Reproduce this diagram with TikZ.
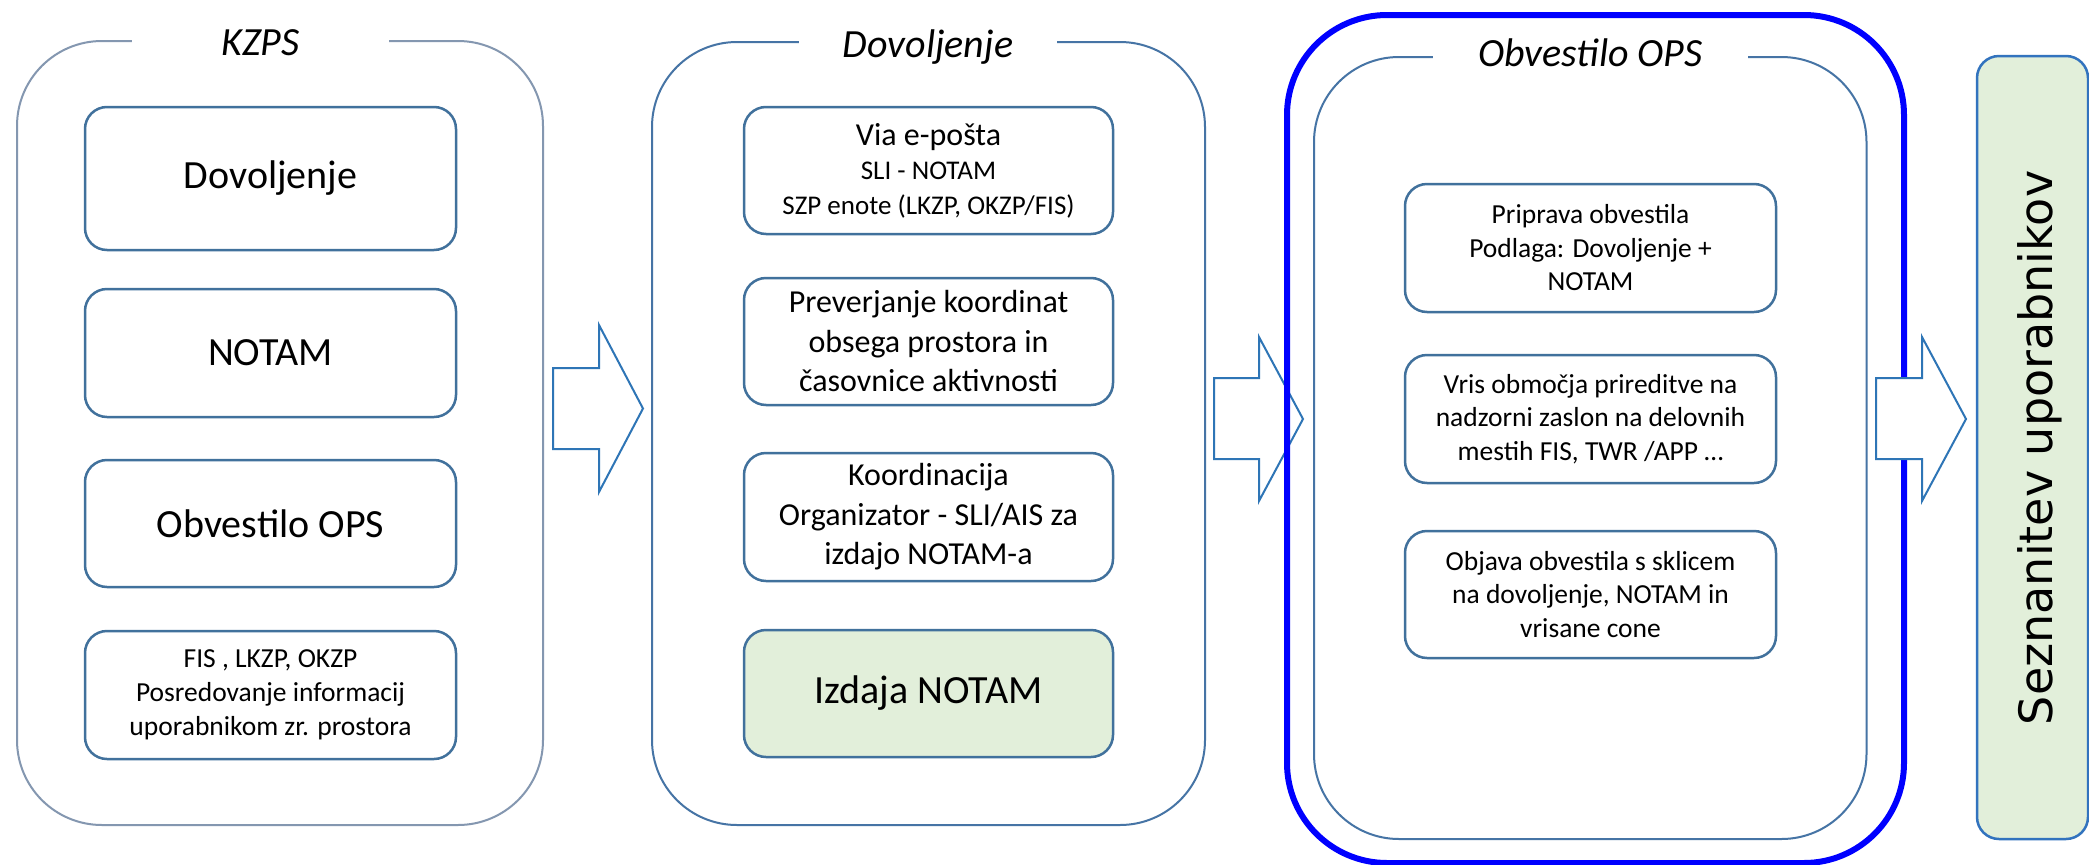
\documentclass[tikz,border=0pt]{standalone}
\usepackage{fontspec}
\setmainfont{Carlito}
\newfontfamily\vfont{DejaVu Sans}
\newcommand{\fsz}[2]{\fontsize{#1}{#2}\selectfont}
\definecolor{boxblue}{RGB}{65,113,156}
\definecolor{kzpsline}{RGB}{132,151,176}
\definecolor{outline}{RGB}{70,116,165}
\definecolor{arrowblue}{RGB}{46,117,182}
\definecolor{lgreen}{RGB}{226,239,218}
\definecolor{brightblue}{RGB}{0,0,255}
\definecolor{sgreenline}{RGB}{50,115,190}
\tikzset{
  outbox/.style={draw=outline, line width=2pt, rounded corners=85pt, inner sep=0pt, fill=white},
  ttl/.style={fill=white, inner sep=0pt, anchor=base, font=\itshape\fsz{40}{48}},
  inbox/.style={draw=boxblue, line width=2.5pt, rounded corners=22pt, fill=white, align=center, inner sep=0pt},
  blockarrow/.style={draw=arrowblue, line width=2pt, fill=white, line join=miter},
  smalltext/.style={font=\fsz{27.5}{34}},
  bigtext/.style={font=\fsz{40}{48}},
  midtext/.style={font=\fsz{32}{39.5}}
}
\begin{document}
\begin{tikzpicture}[x=1pt,y=-1pt]
\useasboundingbox (0,0) rectangle (2089,865);
\fill[white] (0,0) rectangle (2089,865);

% KZPS column
\node[outbox, draw=kzpsline, minimum width=526pt, minimum height=784pt] (kzps) at (280,433) {};
\node[ttl, minimum width=257pt] (kzpsT) at (260.5,55) {KZPS};
\node[inbox, bigtext, minimum width=371pt, minimum height=143pt] (k1) at (270.5,178.5) {Dovoljenje};
\node[inbox, bigtext, minimum width=371pt, minimum height=128pt] (k2) at (270.5,353) {NOTAM};
\node[inbox, bigtext, minimum width=371pt, minimum height=127pt] (k3) at (270.5,523.5) {Obvestilo OPS};
\node[inbox, smalltext, minimum width=371pt, minimum height=128pt] (k4) at (270.5,695) {FIS , LKZP, OKZP\\Posredovanje informacij\\uporabnikom zr. prostora};

% arrow 1
\draw[blockarrow] (553,368) -- (599,368) -- (599,325) -- (643,408.5) -- (599,492) -- (599,449) -- (553,449) -- cycle;

% Dovoljenje column
\node[outbox, minimum width=553pt, minimum height=783pt] (dov) at (928.5,433.5) {};
\node[ttl, minimum width=258pt] (dovT) at (928,57) {Dovoljenje};
\node[inbox, font=\fsz{27}{34.5}, minimum width=369pt, minimum height=127pt] (d1) at (928.5,170.5) {{\fsz{32}{36}Via e-pošta}\\SLI - NOTAM\\SZP enote (LKZP, OKZP/FIS)};
\node[inbox, midtext, minimum width=369pt, minimum height=127pt] (d2) at (928.5,341.5) {Preverjanje koordinat\\obsega prostora in\\časovnice aktivnosti};
\node[inbox, midtext, minimum width=369pt, minimum height=128pt] (d3) at (928.5,517) {Koordinacija\\Organizator - SLI/AIS za\\izdajo NOTAM-a};
\node[inbox, bigtext, fill=lgreen, minimum width=369pt, minimum height=127pt] (d4) at (928.5,693.5) {Izdaja NOTAM};

% arrow 2 (under the blue frame)
\draw[blockarrow] (1214,378) -- (1259,378) -- (1259,337) -- (1303,419) -- (1259,501) -- (1259,459) -- (1214,459) -- cycle;

% Obvestilo OPS column
\node[draw=brightblue, line width=6pt, rounded corners=100pt, inner sep=0pt, minimum width=617pt, minimum height=848pt] (frame) at (1595.5,439) {};
\node[outbox, minimum width=552.5pt, minimum height=782pt] (obv) at (1590.25,448) {};
\node[ttl, minimum width=315pt] (obvT) at (1590.5,66) {Obvestilo OPS};
\node[inbox, font=\fsz{27.5}{33.5}, minimum width=371pt, minimum height=128pt] (o1) at (1590.5,248) {Priprava obvestila\\Podlaga: Dovoljenje +\\NOTAM};
\node[inbox, font=\fsz{27.5}{33.5}, minimum width=371pt, minimum height=128pt] (o2) at (1590.5,419) {Vris območja prireditve na\\nadzorni zaslon na delovnih\\mestih FIS, TWR /APP …};
\node[inbox, font=\fsz{27.5}{33.5}, minimum width=371pt, minimum height=127pt] (o3) at (1590.5,594.5) {Objava obvestila s sklicem\\na dovoljenje, NOTAM in\\vrisane cone};

% arrow 3 (over the blue frame)
\draw[blockarrow] (1876,378) -- (1922,378) -- (1922,337) -- (1966,419) -- (1922,501) -- (1922,459) -- (1876,459) -- cycle;

% Seznanitev uporabnikov
\node[draw=sgreenline, line width=2.5pt, fill=lgreen, rounded corners=22pt, inner sep=0pt, minimum width=111pt, minimum height=783pt] (sez) at (2032.5,447.5) {};
\node[rotate=90, inner sep=0pt, font=\vfont\fsz{46}{52}] (sezT) at (2040,448) {Seznanitev uporabnikov};
\end{tikzpicture}
\end{document}
